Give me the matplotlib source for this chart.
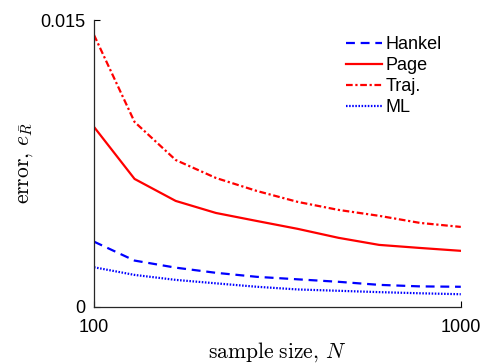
import numpy as np
import matplotlib
matplotlib.use("Agg")
import matplotlib.pyplot as plt

# ── Data ──────────────────────────────────────────────────────────────────────

N = [100, 129, 167, 215, 278, 359, 464, 599, 774, 1000]

hankel = [0.00341, 0.00242, 0.00205, 0.00178, 0.00157,
          0.00144, 0.00131, 0.00115, 0.00107, 0.00105]
page = [0.00941, 0.00669, 0.00554, 0.00491, 0.00449,
        0.00408, 0.00361, 0.00324, 0.00308, 0.00293]
traj = [0.01422, 0.00967, 0.00768, 0.00674, 0.00606,
        0.00549, 0.00507, 0.00476, 0.00439, 0.00418]
ml = [0.00207, 0.00167, 0.00141, 0.00123, 0.00105,
      0.00091, 0.00084, 0.00077, 0.00071, 0.00066]

X_TICKS = [100, 1000]
Y_TICKS = [0, 0.015]
Y_TICK_LABELS = ["0", "0.015"]

# ── Plot ──────────────────────────────────────────────────────────────────────

plt.rcParams['font.family'] = ['Liberation Sans', 'DejaVu Sans']
plt.rcParams['mathtext.fontset'] = 'cm'

fig = plt.figure(figsize=(4.82, 3.64), dpi=100)
ax = fig.add_axes([0.195, 0.157, 0.761, 0.788])

lw = 1.6
ax.plot(N, hankel, color='#0000ff', lw=lw, linestyle=(0, (4, 2.6)), label='Hankel')
ax.plot(N, page, color='#ff0000', lw=lw, linestyle='-', label='Page')
ax.plot(N, traj, color='#ff0000', lw=lw, linestyle=(0, (3, 1.2, 1, 1.2)), label='Traj.')
ax.plot(N, ml, color='#0000ff', lw=lw, linestyle=(0, (0.7, 0.7)), label='ML')

ax.set_xscale('log')
ax.set_xlim(100, 1000)
ax.set_ylim(0, 0.015)
ax.set_xticks(X_TICKS)
ax.set_xticklabels([str(t) for t in X_TICKS])
ax.xaxis.set_minor_locator(matplotlib.ticker.NullLocator())
ax.set_yticks(Y_TICKS)
ax.set_yticklabels(Y_TICK_LABELS)
ax.tick_params(direction='in', labelsize=13, length=4, width=0.8)
ax.tick_params(axis='x', pad=9)
ax.tick_params(axis='y', pad=6)

for side in ['top', 'right']:
    ax.spines[side].set_visible(False)
for side in ['left', 'bottom']:
    ax.spines[side].set_linewidth(0.9)
    ax.spines[side].set_color('#262626')

ax.set_xlabel(r'$\mathrm{sample\ size,}\,N$', fontsize=15.5, labelpad=3)
ax.set_ylabel(r'$\mathrm{error,}\,e_{\bar{R}}$', fontsize=15.5, labelpad=4)

ax.legend(loc='upper left', bbox_to_anchor=(0.687, 0.943), frameon=False,
          fontsize=13, handlelength=2.0, handletextpad=0.2,
          labelspacing=0.22, borderaxespad=0.0, borderpad=0.0)

fig.savefig("out.png", dpi=100)
